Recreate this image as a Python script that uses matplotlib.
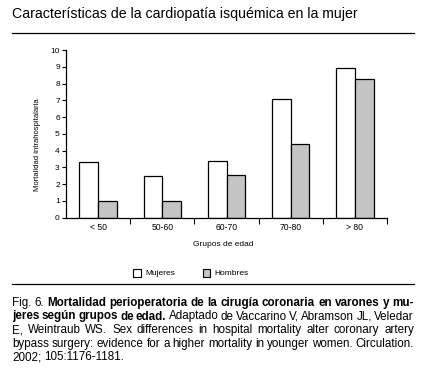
import numpy as np
import matplotlib
matplotlib.use("Agg")
import matplotlib.pyplot as plt
from matplotlib.patches import Patch

# data ---------------------------------------------------------------------
grupos = ["< 50", "50-60", "60-70", "70-80", "> 80"]
mujeres = [3.35, 2.5, 3.4, 7.1, 8.9]
hombres = [1.0, 1.0, 2.55, 4.4, 8.25]
yticks = list(range(0, 11))

titulo = "Características de la cardiopatía isquémica en la mujer"
# caption lines: list of (text, bold) chunks per line, justified except the last
caption = [
    [("Fig. 6.", False), ("Mortalidad perioperatoria de la cirugía coronaria en varones y mu-", True)],
    [("jeres según grupos de edad.", True), ("Adaptado de Vaccarino V, Abramson JL, Veledar", False)],
    [("E, Weintraub WS. Sex differences in hospital mortality alter coronary artery", False)],
    [("bypass surgery: evidence for a higher mortality in younger women. Circulation.", False)],
    [("2002; 105:1176-1181.", False)],
]

W, H = 423, 376
plt.rcParams["font.family"] = ["Liberation Sans", "DejaVu Sans"]
fig = plt.figure(figsize=(W / 100, H / 100), dpi=100)
fig.patch.set_facecolor("white")

def fx(px):
    return px / W

def fy(py):
    return 1 - py / H

ax = fig.add_axes([fx(66), fy(217.7), fx(387 - 66), (217.7 - 50) / H])
x = np.arange(len(grupos))
bw = 0.29
ax.bar(x - bw / 2, mujeres, bw, color="white", edgecolor="black", lw=0.9, zorder=2)
ax.bar(x + bw / 2, hombres, bw, color="#c4c4c4", edgecolor="black", lw=0.9, zorder=2)

ax.set_xlim(-0.5, len(grupos) - 0.5)
ax.set_ylim(0, 10)
ax.set_yticks(yticks)
ax.tick_params(axis="y", labelsize=6, length=3, width=0.8, pad=1.5)
ax.set_xticks(x)
ax.set_xticklabels(grupos)
ax.tick_params(axis="x", which="major", length=0, labelsize=6.2, pad=4)
ax.set_xticks(np.arange(0.5, len(grupos)), minor=True)
ax.tick_params(axis="x", which="minor", length=4, width=0.8, direction="out")
for s in ("top", "right"):
    ax.spines[s].set_visible(False)
for s in ("left", "bottom"):
    ax.spines[s].set_linewidth(0.9)

fig.text(fx(37), fy(145), "Mortalidad intrahospitalaria", rotation=90,
         ha="center", va="center", fontsize=5.5)
fig.text(fx(223), fy(244), "Grupos de edad", ha="center", va="center", fontsize=6)

handles = [Patch(facecolor="white", edgecolor="black", lw=0.8, label="Mujeres"),
           Patch(facecolor="#c4c4c4", edgecolor="black", lw=0.8, label="Hombres")]
fig.legend(handles=handles, loc="center", bbox_to_anchor=(fx(191), fy(273)), ncol=2,
           frameon=False, fontsize=6, handlelength=0.95, handleheight=1.15,
           handletextpad=0.5, columnspacing=3.3)

# title and rules
fig.text(fx(12), fy(14), titulo, ha="left", va="center", fontsize=10.2)
fig.add_artist(plt.Line2D([fx(12), fx(414)], [fy(33.3), fy(33.3)], color="black", lw=0.9))
fig.add_artist(plt.Line2D([fx(12), fx(414)], [fy(284), fy(284)], color="black", lw=0.9))

# justified caption
renderer = fig.canvas.get_renderer()
x0, x1 = 12, 414
line_y = [302.7, 316.5, 330.2, 344, 357.5]
for li, chunks in enumerate(caption):
    words = []
    for txt, bold in chunks:
        for w in txt.split(" "):
            words.append((w, bold))
    arts = []
    widths = []
    for w, bold in words:
        t = fig.text(0, fy(line_y[li]), w, ha="left", va="center", fontsize=8.4,
                     fontweight="bold" if bold else "normal")
        widths.append(t.get_window_extent(renderer).width)
        arts.append(t)
    last = li == len(caption) - 1
    if last or len(words) < 2:
        gap = 3.0
    else:
        gap = (x1 - x0 - sum(widths)) / (len(words) - 1)
    pos = x0
    for t, wd in zip(arts, widths):
        t.set_x(fx(pos))
        pos += wd + gap

fig.savefig("out.png", dpi=100, facecolor="white")
